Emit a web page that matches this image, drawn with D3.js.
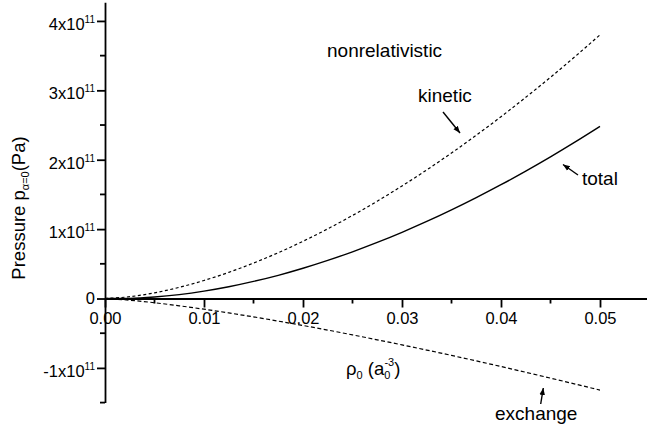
<!DOCTYPE html>
<html>
<head>
<meta charset="utf-8">
<script src="https://cdn.jsdelivr.net/npm/d3@7"></script>
<style>
  body { margin: 0; background: #fff; }
  svg { font-family: "Liberation Sans", Arial, Helvetica, sans-serif; }
</style>
</head>
<body>
<script>
const width = 647, height = 430;

// density rho0 (a0^-3)
const rho = [0, 0.0025, 0.005, 0.0075, 0.01, 0.0125, 0.015, 0.0175, 0.02, 0.0225, 0.025,
  0.0275, 0.03, 0.0325, 0.035, 0.0375, 0.04, 0.0425, 0.045, 0.0475, 0.05];
// pressure, units of 1e11 Pa
const kinetic = [0, 0.026, 0.082, 0.161, 0.260, 0.377, 0.511, 0.660, 0.825, 1.004, 1.197,
  1.403, 1.622, 1.853, 2.097, 2.353, 2.620, 2.899, 3.188, 3.489, 3.800];
const exchange = [0, -0.024, -0.061, -0.105, -0.154, -0.208, -0.265, -0.326, -0.389, -0.455, -0.524,
  -0.595, -0.668, -0.743, -0.820, -0.899, -0.980, -1.063, -1.147, -1.233, -1.320];
const total = [0, 0.002, 0.021, 0.056, 0.106, 0.169, 0.246, 0.334, 0.436, 0.549, 0.673,
  0.808, 0.954, 1.110, 1.277, 1.454, 1.640, 1.836, 2.041, 2.256, 2.480];

const xTicks = [0, 0.01, 0.02, 0.03, 0.04, 0.05];
const xMinor = [0.005, 0.015, 0.025, 0.035, 0.045, 0.055];
const yTicks = [-1, 0, 1, 2, 3, 4];
const yMinor = [-1.5, -0.5, 0.5, 1.5, 2.5, 3.5];

const x = d3.scaleLinear().domain([0, 0.055]).range([105, 649.5]);
const y = d3.scaleLinear().domain([-1.5, 4.27]).range([402.6, 2.2]);

const svg = d3.select("body").append("svg")
  .attr("width", width).attr("height", height);

// curves
const line = vals => d3.line()
  .x((d, i) => x(rho[i]))
  .y(d => y(d))
  .curve(d3.curveMonotoneX)(vals);

svg.append("path").attr("d", line(kinetic))
  .attr("fill", "none").attr("stroke", "#000").attr("stroke-width", 1.2)
  .attr("stroke-dasharray", "3,2.5");
svg.append("path").attr("d", line(exchange))
  .attr("fill", "none").attr("stroke", "#000").attr("stroke-width", 1.2)
  .attr("stroke-dasharray", "4,2.5");
svg.append("path").attr("d", line(total))
  .attr("fill", "none").attr("stroke", "#000").attr("stroke-width", 1.4);

// x axis
const xAxis = svg.append("g")
  .attr("transform", `translate(0,${y(0)})`)
  .call(d3.axisBottom(x).tickValues(xTicks).tickFormat(d3.format(".2f"))
    .tickSize(9).tickSizeOuter(0).tickPadding(5));
xAxis.append("g").selectAll("line").data(xMinor).join("line")
  .attr("x1", d => x(d)).attr("x2", d => x(d))
  .attr("y1", 0).attr("y2", 5).attr("stroke", "#000").attr("stroke-width", 1.8);

// y axis
const yAxis = svg.append("g")
  .attr("transform", `translate(${x(0)},0)`)
  .call(d3.axisLeft(y).tickValues(yTicks).tickFormat("")
    .tickSize(8).tickSizeOuter(0));
yAxis.append("g").selectAll("line").data(yMinor).join("line")
  .attr("y1", d => y(d)).attr("y2", d => y(d))
  .attr("x1", 0).attr("x2", -5).attr("stroke", "#000").attr("stroke-width", 1.8);

svg.selectAll(".domain").attr("stroke-width", 1.8);
svg.selectAll(".tick line").attr("stroke-width", 1.8);
xAxis.selectAll(".tick text").attr("font-size", 16.5).attr("fill", "#000")
  .attr("font-family", "Liberation Sans, Arial, sans-serif");

// y tick labels with superscripts
const yl = yAxis.append("g").attr("font-size", 16.5).attr("text-anchor", "end")
  .attr("fill", "#000");
yTicks.forEach(v => {
  const t = yl.append("text").attr("x", -10).attr("y", y(v))
    .attr("dy", v === 0 ? "0.35em" : "0.55em");
  if (v === 0) { t.text("0"); return; }
  t.append("tspan").text(`${v}x10`);
  t.append("tspan").attr("font-size", 10).attr("dy", -7).text("11");
});

// axis titles
const yt = svg.append("text")
  .attr("transform", `translate(25,${208}) rotate(-90)`)
  .attr("text-anchor", "middle").attr("font-size", 18.5);
yt.append("tspan").text("Pressure p");
yt.append("tspan").attr("font-size", 11).attr("dy", 4).text("α=0");
yt.append("tspan").attr("dy", -4).text("(Pa)");

const xt = svg.append("text").attr("x", 346).attr("y", 375).attr("font-size", 18.5);
xt.append("tspan").text("ρ");
xt.append("tspan").attr("font-size", 11).attr("dy", 4).text("0");
xt.append("tspan").attr("dy", -4).text(" (a");
xt.append("tspan").attr("font-size", 11).attr("dy", 4).text("0");
xt.append("tspan").attr("font-size", 11).attr("dy", -13).attr("dx", -6).text("-3");
xt.append("tspan").attr("dy", 9).text(")");

// annotations
const notes = [
  { text: "nonrelativistic", x: 327, y: 57 },
  { text: "kinetic", x: 418, y: 102 },
  { text: "total", x: 582, y: 185 },
  { text: "exchange", x: 495, y: 420 }
];
svg.append("g").attr("font-size", 19).selectAll("text").data(notes).join("text")
  .attr("x", d => d.x).attr("y", d => d.y).text(d => d.text);

svg.append("defs").append("marker")
  .attr("id", "arr").attr("viewBox", "0 0 10 10").attr("refX", 10).attr("refY", 5)
  .attr("markerWidth", 7).attr("markerHeight", 7).attr("markerUnits", "userSpaceOnUse")
  .attr("orient", "auto")
  .append("path").attr("d", "M0,1 L10,5 L0,9 Z").attr("fill", "#000");

const arrows = [
  [443, 112, 460, 133],
  [578, 175, 563, 164.5],
  [540.7, 404, 543.3, 388]
];
svg.append("g").selectAll("line").data(arrows).join("line")
  .attr("x1", d => d[0]).attr("y1", d => d[1]).attr("x2", d => d[2]).attr("y2", d => d[3])
  .attr("stroke", "#000").attr("stroke-width", 1.4).attr("marker-end", "url(#arr)");
</script>
</body>
</html>
